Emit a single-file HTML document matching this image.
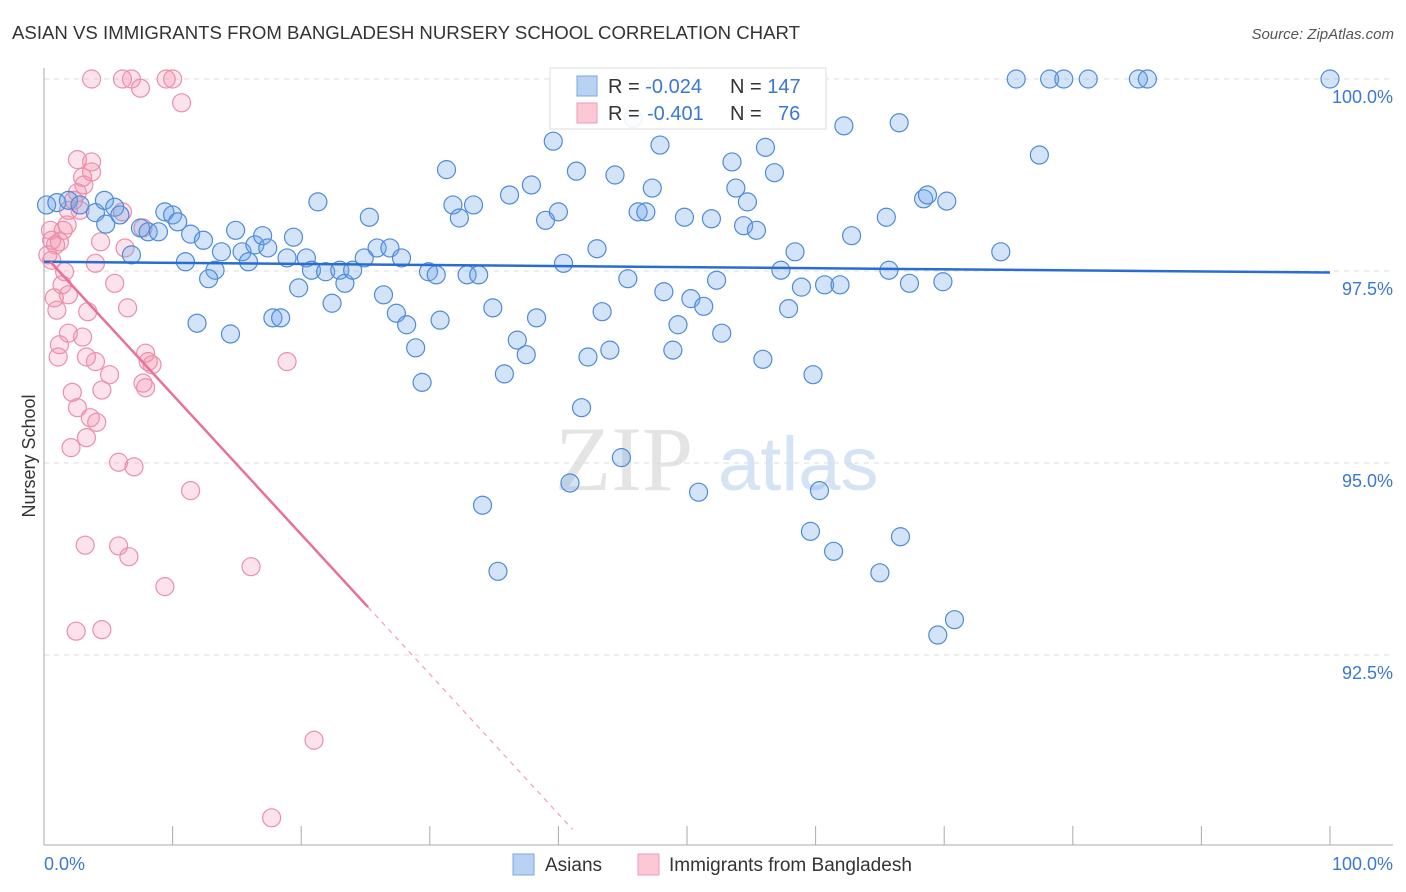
<!DOCTYPE html>
<html><head><meta charset="utf-8">
<style>
body{margin:0;background:#fff;font-family:"Liberation Sans",sans-serif;}
#wrap{position:relative;width:1406px;height:892px;overflow:hidden;}
</style></head>
<body>
<div id="wrap">
<svg id="svg" width="1406" height="892" xmlns="http://www.w3.org/2000/svg">
<text x="12" y="39" font-size="18" fill="#333" textLength="788" lengthAdjust="spacingAndGlyphs">ASIAN VS IMMIGRANTS FROM BANGLADESH NURSERY SCHOOL CORRELATION CHART</text>
<text x="1394" y="39" font-size="15" fill="#555" font-style="italic" text-anchor="end">Source: ZipAtlas.com</text>
<text x="35" y="456" font-size="18" fill="#333" text-anchor="middle" transform="rotate(-90 35 456)">Nursery School</text>
<g>
<text x="555" y="490" font-size="92" fill="#e4e4e4" font-family="Liberation Serif,serif">ZIP</text>
<text x="718" y="490" font-size="76" fill="#d5e4f4">atlas</text>
</g>
<g id="grid"></g>
<g id="axes"></g>
<g id="pink"></g>
<g id="blue"></g>
<g id="trends"></g>
<g>
<rect x="550" y="68" width="276" height="61" fill="#fff" fill-opacity="0.9" stroke="#ddd"/>
<rect x="577" y="76" width="20" height="20" fill="#b8d2f4" stroke="#7aa6e0"/>
<rect x="577" y="103" width="20" height="20" fill="#fcc8d6" stroke="#f09ab4"/>
<text x="608" y="93" font-size="20" fill="#333">R = <tspan fill="#3a78d4">-0.024</tspan><tspan x="730">N = </tspan><tspan fill="#3a78d4">147</tspan></text>
<text x="608" y="120" font-size="20" fill="#333">R = <tspan fill="#3a78d4" x="647">-0.401</tspan><tspan x="730">N = </tspan><tspan fill="#3a78d4" x="778">76</tspan></text>
</g>
<g>
<rect x="513" y="854" width="21" height="21" fill="#b8d2f4" stroke="#7aa6e0"/>
<text x="545" y="871" font-size="19" fill="#333">Asians</text>
<rect x="638" y="854" width="21" height="21" fill="#fcc8d6" stroke="#f09ab4"/>
<text x="669" y="871" font-size="19" fill="#333">Immigrants from Bangladesh</text>
</g>
</svg>
</div>
<script>
const yTicks=[100,97.5,95,92.5];
const yTickLabels=["100.0%","97.5%","95.0%","92.5%"];
const xTicks=[0,10,20,30,40,50,60,70,80,90,100];
const xEndLabels=["0.0%","100.0%"];
const asiansX=[0.2,1.0,1.9,2.8,4.0,4.7,5.5,4.8,5.9,6.8,7.5,8.1,8.9,9.4,10.0,10.4,11.0,11.4,11.9,12.4,13.3,12.8,13.8,14.5,14.9,15.4,15.9,16.4,17.0,17.4,17.8,18.4,18.9,19.4,19.8,20.4,20.8,21.3,21.9,22.4,23.0,23.4,24.0,24.9,25.3,25.9,26.4,26.9,27.4,27.8,28.2,28.9,29.4,29.9,30.5,30.8,31.3,31.8,32.3,32.9,33.4,33.8,34.1,34.9,35.3,35.8,36.2,36.8,37.5,37.9,38.3,39.0,39.6,40.0,40.4,40.9,41.4,41.8,42.3,43.0,43.4,44.0,44.4,44.9,45.4,45.8,46.2,46.8,47.3,47.9,48.2,48.9,49.3,49.8,50.3,50.9,51.3,51.9,52.3,52.7,53.5,53.8,54.4,54.7,55.4,55.9,56.1,56.8,57.3,57.9,58.4,58.9,59.6,59.8,60.3,60.7,61.4,61.9,62.2,62.8,65.0,65.5,65.7,66.5,66.6,67.3,68.4,68.7,69.5,69.9,70.2,70.8,74.4,75.6,77.4,78.2,79.3,81.2,85.1,85.8,100];
const asiansY=[98.36,98.39,98.42,98.36,98.26,98.42,98.33,98.11,98.23,97.71,98.06,98.01,98.01,98.27,98.23,98.14,97.62,97.98,96.82,97.90,97.51,97.40,97.75,96.68,98.03,97.75,97.62,97.84,97.96,97.80,96.89,96.89,97.67,97.94,97.28,97.67,97.51,98.40,97.49,97.08,97.51,97.34,97.51,97.67,98.20,97.80,97.19,97.80,96.95,97.67,96.80,96.50,96.05,97.49,97.45,96.86,98.82,98.36,98.19,97.45,98.36,97.45,94.45,97.02,93.59,96.16,98.49,96.60,96.41,98.62,96.89,98.16,99.19,98.27,97.60,94.74,98.80,95.72,96.38,97.79,96.97,96.47,98.75,95.07,97.40,99.49,98.27,98.27,98.58,99.14,97.23,96.47,96.80,98.20,97.14,94.62,97.04,98.18,97.38,96.69,98.92,98.58,98.09,98.40,98.03,96.35,99.11,98.78,97.51,97.01,97.75,97.29,94.11,96.15,94.64,97.32,93.85,97.32,99.39,97.96,93.57,98.20,97.51,99.43,94.04,97.34,98.44,98.49,92.76,97.36,98.41,92.96,97.75,100,99.01,100,100,100,100,100,100];
const bangX=[3.7,6.1,6.8,7.5,9.5,10.0,10.7,2.6,3.7,3.0,3.7,3.1,2.6,2.3,1.9,2.8,1.8,1.5,0.5,0.6,0.9,0.3,0.6,1.2,4.4,6.1,7.7,6.3,1.6,4.0,1.4,5.5,0.8,1.9,1.0,3.4,6.5,1.9,3.0,1.2,1.1,3.3,4.0,5.1,7.9,8.1,8.4,2.2,4.5,7.7,7.9,2.6,3.6,4.1,3.3,2.1,5.8,7.0,11.4,3.2,5.8,6.6,9.4,16.1,2.5,4.5,18.9,21.0,17.7];
const bangY=[100,100,100,99.88,100,100,99.69,98.95,98.92,98.72,98.79,98.62,98.52,98.42,98.29,98.29,98.10,98.03,98.03,97.90,97.84,97.71,97.64,97.88,97.88,98.27,98.06,97.80,97.49,97.60,97.32,97.34,97.15,97.19,96.99,96.97,97.02,96.69,96.64,96.54,96.38,96.38,96.32,96.15,96.43,96.32,96.28,95.92,95.95,96.04,95.98,95.72,95.59,95.53,95.33,95.20,95.01,94.95,94.64,93.93,93.92,93.78,93.39,93.65,92.81,92.83,96.32,91.39,90.38];
const asiansTrend=[97.62,97.48];
const bangTrend={intercept:97.71,slope:-0.182,solidEnd:25.2,dashEnd:41.1};

const NS="http://www.w3.org/2000/svg";
const X0=44,X1=1330,Y100=79,PXPER=76.8;
function sx(v){return X0+(X1-X0)*v/100;}
function sy(v){return Y100+(100-v)*PXPER;}
function mk(tag,attrs,parent){const e=document.createElementNS(NS,tag);for(const k in attrs)e.setAttribute(k,attrs[k]);parent.appendChild(e);return e;}
const grid=document.getElementById('grid'),axes=document.getElementById('axes');
yTicks.forEach((t,i)=>{
 const l=mk('line',{x1:X0,x2:1393,y1:sy(t),y2:sy(t),stroke:'#ddd','stroke-dasharray':'5,5'},grid);
 
 
 const tx=mk('text',{x:1393,y:sy(t)+24,'font-size':18,fill:'#3a78d4','text-anchor':'end'},axes);
 tx.textContent=yTickLabels[i];
 
 
});
const ax=mk('line',{x1:X0,x2:1393,y1:845,y2:845,stroke:'#aaa'},axes);


const ay=mk('line',{x1:X0,x2:X0,y1:68,y2:845,stroke:'#aaa'},axes);


xTicks.forEach(t=>{
 const l=mk('line',{x1:sx(t),x2:sx(t),y1:826,y2:845,stroke:'#aaa'},axes);
 
 
});
const xl0=mk('text',{x:44,y:870,'font-size':18,fill:'#3a78d4'},axes);
xl0.textContent=xEndLabels[0];


const xl1=mk('text',{x:1393,y:870,'font-size':18,fill:'#3a78d4','text-anchor':'end'},axes);
xl1.textContent=xEndLabels[1];


const pink=document.getElementById('pink'),blue=document.getElementById('blue');
bangX.forEach((v,i)=>{
 const c=mk('circle',{cx:sx(v),cy:sy(bangY[i]),r:9,fill:'rgba(244,140,170,0.25)',stroke:'#eb8fac','stroke-width':1.2},pink);
 
 
});
asiansX.forEach((v,i)=>{
 const c=mk('circle',{cx:sx(v),cy:sy(asiansY[i]),r:9,fill:'rgba(110,165,232,0.3)',stroke:'#4f8ad9','stroke-width':1.2},blue);
 
 
});
const tr=document.getElementById('trends');
const bt=mk('line',{x1:sx(0),x2:sx(100),y1:sy(asiansTrend[0]),y2:sy(asiansTrend[1]),stroke:'#2a6dd2','stroke-width':2.5},tr);


const bf=x=>bangTrend.intercept+bangTrend.slope*x;
const ps=mk('line',{x1:sx(0.5),x2:sx(bangTrend.solidEnd),y1:sy(bf(0.5)),y2:sy(bf(bangTrend.solidEnd)),stroke:'#e8709a','stroke-width':2.5},tr);


const pd=mk('line',{x1:sx(bangTrend.solidEnd),x2:sx(bangTrend.dashEnd),y1:sy(bf(bangTrend.solidEnd)),y2:sy(bf(bangTrend.dashEnd)),stroke:'#f0a0b8','stroke-width':1.2,'stroke-dasharray':'5,5'},tr);


</script>
</body></html>
